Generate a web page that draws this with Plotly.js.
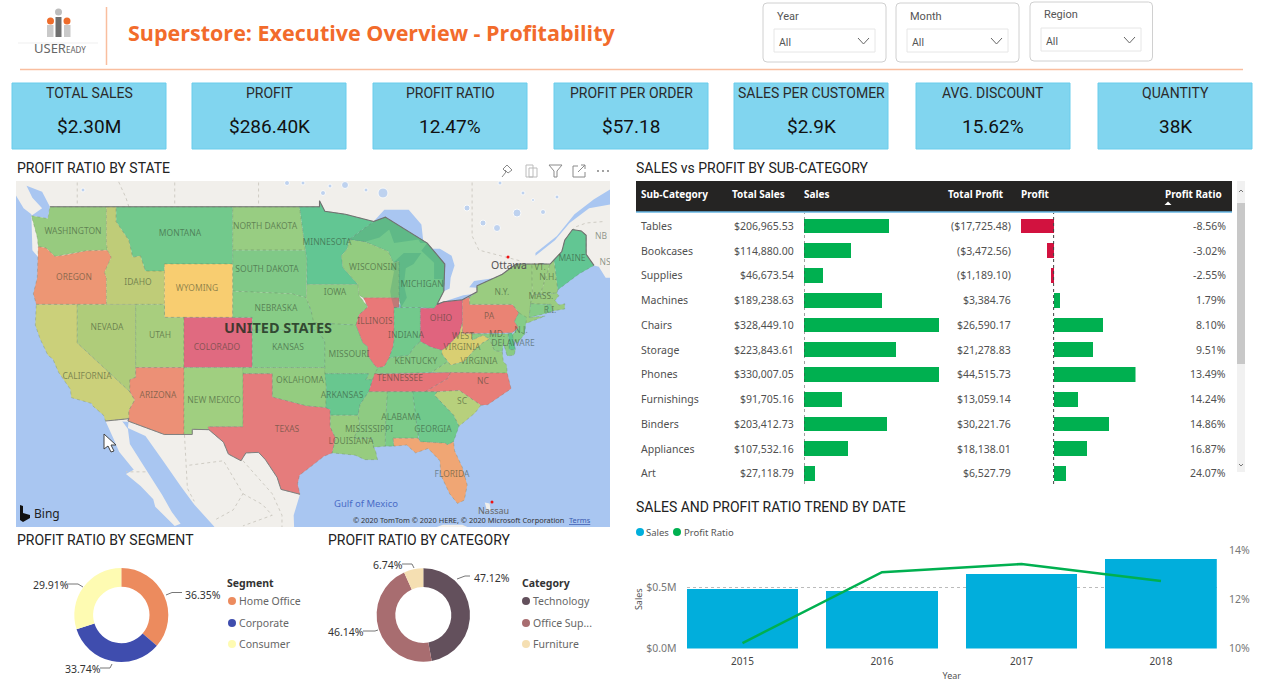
<!DOCTYPE html>
<html><head><meta charset="utf-8">
<script src="https://cdn.plot.ly/plotly-3.0.1.min.js"></script>
<style>html,body{margin:0;padding:0;background:#fff;overflow:hidden}#g{width:1280px;height:683px}</style>
</head><body><div id="g"></div>
<script>
/* ---------- chart data ---------- */
const kpiNames=['TOTAL SALES','PROFIT','PROFIT RATIO','PROFIT PER ORDER','SALES PER CUSTOMER','AVG. DISCOUNT','QUANTITY'];
const kpiValues=['$2.30M','$286.40K','12.47%','$57.18','$2.9K','15.62%','38K'];
const subCategories=['Tables','Bookcases','Supplies','Machines','Chairs','Storage','Phones','Furnishings','Binders','Appliances','Art'];
const totalSales=[206965.53,114880.00,46673.54,189238.63,328449.10,223843.61,330007.05,91705.16,203412.73,107532.16,27118.79];
const totalProfit=[-17725.48,-3472.56,-1189.10,3384.76,26590.17,21278.83,44515.73,13059.14,30221.76,18138.01,6527.79];
const profitRatio=[-8.56,-3.02,-2.55,1.79,8.10,9.51,13.49,14.24,14.86,16.87,24.07];
const years=['2015','2016','2017','2018'];
const yearSales=[484247,470533,609206,733215];
const yearRatio=[10.22,13.10,13.43,12.74];
const segments=['Home Office','Corporate','Consumer'];
const segmentShare=[36.35,33.74,29.91];
const categories=['Technology','Office Sup...','Furniture'];
const categoryShare=[47.12,46.14,6.74];
const segmentColors=['#EC8B5E','#3F4DAE','#FEFBB2'];
const categoryColors=['#63505C','#A86D70','#F5DFB2'];

/* state outlines as lon/lat, and the colour each state is shaded with */
const stateOutlines={
WA:[[-124.7,48.4],[-123,48.2],[-122.8,49],[-117,49],[-117,46.4],[-116.9,46],[-119,45.95],[-121.2,45.65],[-122.3,45.55],[-123.2,46.15],[-124,46.25],[-124.1,46.9]],
OR:[[-124,46.25],[-123.2,46.15],[-122.3,45.55],[-121.2,45.65],[-119,45.95],[-116.9,46],[-116.5,45.5],[-117.2,44.4],[-117,44],[-117,42],[-124.2,42],[-124.5,42.8],[-124.1,44]],
CA:[[-124.2,42],[-120,42],[-120,39],[-114.6,35],[-114.1,34.3],[-114.7,33.4],[-114.7,32.7],[-117.1,32.5],[-117.3,33],[-118.4,33.8],[-118.5,34],[-120.6,34.5],[-120.7,35.2],[-121.9,36.6],[-122.5,37.7],[-123,38],[-123.8,39.3],[-124.3,40.4]],
NV:[[-120,42],[-114,42],[-114,36.2],[-114.6,36],[-114.6,35],[-120,39]],
ID:[[-117,49],[-116,49],[-116,48],[-114.7,46.7],[-114.3,45.5],[-113.5,45.6],[-113,44.5],[-111.05,44.5],[-111.05,42],[-117,42],[-117,44],[-117.2,44.4],[-116.5,45.5],[-116.9,46],[-117,46.4]],
MT:[[-116,49],[-104.05,49],[-104.05,45],[-111.05,45],[-111.05,44.5],[-113,44.5],[-113.5,45.6],[-114.3,45.5],[-114.7,46.7],[-116,48]],
WY:[[-111.05,45],[-104.05,45],[-104.05,41],[-111.05,41]],
UT:[[-114,42],[-111.05,42],[-111.05,41],[-109.05,41],[-109.05,37],[-114,37]],
CO:[[-109.05,41],[-102.05,41],[-102.05,37],[-109.05,37]],
AZ:[[-114,37],[-109.05,37],[-109.05,31.33],[-111.07,31.33],[-114.8,32.5],[-114.7,32.7],[-114.7,33.4],[-114.1,34.3],[-114.6,35],[-114.6,36],[-114,36.2]],
NM:[[-109.05,37],[-103,37],[-103,32],[-106.6,32],[-106.5,31.75],[-108.2,31.78],[-108.2,31.33],[-109.05,31.33]],
ND:[[-104.05,49],[-97.2,49],[-96.6,46],[-104.05,46]],
SD:[[-104.05,46],[-96.6,46],[-96.45,45.3],[-96.45,43.5],[-96.5,42.5],[-98,42.8],[-104.05,43]],
NE:[[-104.05,43],[-98,42.8],[-96.5,42.5],[-96,41.5],[-95.3,40],[-102.05,40],[-102.05,41],[-104.05,41]],
KS:[[-102.05,40],[-95.3,40],[-94.6,39.1],[-94.6,37],[-102.05,37]],
OK:[[-103,37],[-94.6,37],[-94.45,35.4],[-94.5,33.65],[-96.5,33.8],[-98,34.1],[-100,34.55],[-100,36.5],[-103,36.5]],
TX:[[-103,36.5],[-100,36.5],[-100,34.55],[-98,34.1],[-96.5,33.8],[-94.5,33.65],[-94.05,33.5],[-94.05,32],[-93.5,31],[-93.85,29.7],[-94.7,29.4],[-96,28.5],[-97.2,27.7],[-97.4,26.9],[-97.15,25.95],[-99.1,26.4],[-99.5,27.5],[-100.7,29.1],[-101.4,29.75],[-102.7,29.7],[-103.2,29],[-104.5,29.6],[-105,30.65],[-106.5,31.75],[-106.6,32],[-103,32]],
MN:[[-97.2,49],[-95.15,49],[-95.15,49.4],[-94.6,48.7],[-92.5,48.5],[-89.6,48],[-92.1,46.75],[-92.3,46.1],[-92.9,45.6],[-92.75,44.75],[-91.2,43.5],[-96.45,43.5],[-96.45,45.3],[-96.6,46]],
IA:[[-96.45,43.5],[-91.2,43.5],[-91.1,42.7],[-90.2,41.8],[-91.1,41.2],[-91.4,40.4],[-95.75,40.58],[-96,41.5],[-96.5,42.5]],
MO:[[-95.75,40.58],[-91.4,40.4],[-90.7,39],[-90.2,38.7],[-90.2,38],[-89.5,37.2],[-89.15,36.98],[-89.7,36],[-90.4,36],[-90.1,36.5],[-94.6,36.5],[-94.6,39.1],[-95.3,40]],
AR:[[-94.6,36.5],[-90.1,36.5],[-90.4,36],[-89.7,36],[-90.1,35],[-91,33.9],[-91.2,33],[-94.05,33],[-94.05,33.5],[-94.5,33.65],[-94.45,35.4]],
LA:[[-94.05,33],[-91.2,33],[-91,32.3],[-91.6,31],[-89.75,31],[-89.6,30.2],[-89.4,29.9],[-89.2,29.1],[-90.5,29.1],[-91.5,29.5],[-93.85,29.7],[-93.5,31],[-94.05,32]],
MI:[[-92.1,46.75],[-89.6,48],[-88.4,48.3],[-84.1,46.5],[-82.3,45],[-82.4,43],[-83.1,42],[-83.4,41.7],[-84.8,41.76],[-86.8,41.76],[-87,42.5],[-87,45.2],[-87.6,45.1],[-88.1,45.9],[-90.5,46.6]],
WI:[[-92.1,46.75],[-90.5,46.6],[-88.1,45.9],[-87.6,45.1],[-87,45.2],[-87,42.5],[-90.65,42.5],[-91.1,42.7],[-91.2,43.5],[-92.75,44.75],[-92.9,45.6],[-92.3,46.1]],
IL:[[-90.65,42.5],[-87,42.5],[-87,41.76],[-87.5,41.75],[-87.5,39.3],[-87.6,38.7],[-88,37.8],[-88.5,37.1],[-89.15,36.98],[-89.5,37.2],[-90.2,38],[-90.2,38.7],[-90.7,39],[-91.4,40.4],[-91.1,41.2],[-90.2,41.8]],
IN:[[-87.5,41.75],[-84.8,41.76],[-84.8,39.1],[-85.4,38.7],[-86,38],[-87,37.9],[-88,37.8],[-87.6,38.7],[-87.5,39.3]],
OH:[[-84.8,41.7],[-83.4,41.7],[-83.1,42],[-82.4,42.2],[-81,42.3],[-80.5,42.35],[-80.5,40.6],[-80.8,39.7],[-81.7,39],[-82.2,38.6],[-82.6,38.4],[-83.7,38.65],[-84.8,39.1]],
PA:[[-80.5,42.35],[-79.75,42.55],[-79.75,42],[-75.35,42],[-74.7,41.35],[-75.15,40.7],[-74.75,40.2],[-75.4,39.8],[-80.5,39.72]],
NY:[[-79.75,42],[-79.75,42.55],[-79,42.95],[-79,43.4],[-76.4,44.25],[-75,45],[-73.35,45],[-73.35,43.6],[-73.3,42.75],[-73.5,42],[-73.65,41],[-72,41.1],[-73.9,40.55],[-74.2,40.7],[-74.7,41.35],[-75.35,42]],
NJ:[[-74.7,41.35],[-73.9,41],[-74,40.4],[-74.1,39.7],[-74.9,38.95],[-75.5,39.5],[-74.75,40.2],[-75.15,40.7]],
VT:[[-73.35,45],[-71.5,45],[-72.5,42.73],[-73.3,42.75],[-73.35,43.6]],
NH:[[-71.5,45],[-71.1,45.3],[-70.7,43.1],[-70.8,42.87],[-72.5,42.73]],
ME:[[-71.1,45.3],[-70.3,45.9],[-70,46.7],[-69.2,47.45],[-68.3,47.35],[-67.8,47.05],[-67.8,45.7],[-67,44.9],[-68.5,44.3],[-70.7,43.1]],
MA:[[-73.5,42.05],[-73.3,42.75],[-72.5,42.73],[-70.8,42.87],[-70.6,42.65],[-71,42.3],[-70.6,41.95],[-70,42.05],[-70,41.65],[-71.2,41.5],[-71.4,42]],
CT:[[-73.5,42.05],[-71.8,42],[-71.85,41.32],[-73.65,41]],
RI:[[-71.8,42],[-71.4,42],[-71.2,41.5],[-71.85,41.32]],
DE:[[-75.8,39.72],[-75.4,39.8],[-75.05,38.45],[-75.7,38.45]],
MD:[[-79.5,39.72],[-75.8,39.72],[-75.7,38.45],[-75.05,38.45],[-75.2,38],[-75.9,37.95],[-76.3,39],[-76.4,38.3],[-77.2,38.35],[-77.7,39.3],[-78.4,39.6],[-79.5,39.2]],
WV:[[-80.5,40.6],[-80.5,39.72],[-79.5,39.72],[-79.5,39.2],[-78.4,39.6],[-77.7,39.3],[-78.4,39],[-79.3,38.4],[-80.3,37.5],[-81.7,37.2],[-82.6,38.1],[-82.6,38.4],[-82.2,38.6],[-81.7,39],[-80.8,39.7]],
VA:[[-83.7,36.6],[-75.9,36.55],[-75.95,37.2],[-76.3,37.5],[-76.4,38.3],[-77.2,38.35],[-77.7,39.3],[-78.4,39],[-79.3,38.4],[-80.3,37.5],[-81.7,37.2],[-82,37.5]],
KY:[[-89.5,36.5],[-88,36.5],[-83.7,36.6],[-82,37.5],[-82.6,38.1],[-82.6,38.4],[-83.7,38.65],[-84.8,39.1],[-85.4,38.7],[-86,38],[-87,37.9],[-88,37.8],[-88.5,37.1],[-89.15,36.98]],
TN:[[-90.1,35],[-89.7,36],[-89.5,36.5],[-88,36.5],[-83.7,36.6],[-81.7,36.6],[-82,36.1],[-84.3,35]],
NC:[[-84.3,35],[-82,36.1],[-81.7,36.6],[-75.9,36.55],[-75.5,35.25],[-76.5,34.7],[-77.9,33.9],[-78.6,33.85],[-80.8,35.1],[-83.1,35]],
SC:[[-83.1,35],[-80.8,35.1],[-78.6,33.85],[-79.2,33.2],[-80.85,32.05],[-81.4,33],[-83.35,34.7]],
GA:[[-85.6,35],[-83.1,35],[-83.35,34.7],[-81.4,33],[-80.85,32.05],[-81.4,30.7],[-82.05,30.4],[-82.2,30.55],[-84.85,30.7],[-85.1,31.6]],
AL:[[-88.2,35],[-85.6,35],[-85.1,31.6],[-85,31],[-87.6,31],[-87.5,30.3],[-88.4,30.3],[-88.4,31.9]],
MS:[[-90.1,35],[-88.2,35],[-88.4,31.9],[-88.4,30.3],[-89.6,30.2],[-89.75,31],[-91.6,31],[-91,32.3],[-91.2,33],[-91,33.9]],
FL:[[-87.6,31],[-85,31],[-84.85,30.7],[-82.2,30.55],[-82.05,30.4],[-81.4,30.7],[-81.3,29.9],[-80.5,28.4],[-80,26.8],[-80.3,25.4],[-81,25.1],[-81.8,26],[-82.7,27.7],[-82.8,29],[-84,30.1],[-85.3,29.7],[-86.2,30.4],[-87.5,30.3]]
};
const stateColors={WA:'#97CB7F',OR:'#ED9674',CA:'#CBD07A',NV:'#AFCC7A',ID:'#BFCC78',MT:'#72C98C',WY:'#F8CD70',UT:'#A8CE7E',CO:'#E06A80',AZ:'#EC9076',NM:'#A0CF80',ND:'#98CD82',SD:'#80C987',NE:'#87CC86',KS:'#85CC88',OK:'#94CC80',TX:'#E57C7C',MN:'#62C693',IA:'#8FCC82',MO:'#8ACB84',AR:'#68C78F',LA:'#97CC7F',WI:'#93CC80',IL:'#E97878',IN:'#72C98C',OH:'#E0647E',MI:'#72C88C',KY:'#85CA85',TN:'#E67478',MS:'#8ECB82',AL:'#7CCB88',GA:'#70C98C',FL:'#F0A674',SC:'#B7D07C',NC:'#E87D78',VA:'#98CD80',WV:'#D9CF72',PA:'#EA8374',NY:'#9ACC80',VT:'#9ACC80',NH:'#9ACC80',ME:'#62C693',MA:'#9ACC80',CT:'#85CC88',RI:'#78C98A',NJ:'#85CC88',DE:'#60C48F',MD:'#8ACB84'};
/* background geography, lon/lat */
const landNorth=[[-126.5,51],[-65,51],[-65,44],[-65.8,44],[-66.5,44.8],[-67,44.9],[-75,42],[-120,42],[-124.6,46],[-124.7,48.5],[-125.5,48.9],[-126.5,50]];
const stLawrence=[[-65,50.3],[-67,49.5],[-69,48.5],[-70.8,47],[-73,45.8],[-73,45.6],[-71,46.7],[-69.5,47.9],[-67.5,48.9],[-65,49.2]];
const georgiaStrait=[[-124.7,48.4],[-123,48.2],[-122.8,49],[-123.6,50],[-125.2,50.4],[-124.6,49.6],[-123.6,48.9]];
const mexicoMain=[[-117.1,32.55],[-114.7,32.7],[-114.8,31.9],[-113,31.2],[-111.2,29],[-109.4,26.7],[-108,25],[-106,23],[-105,21.5],[-97.7,21.5],[-97.8,24],[-97.15,25.95],[-99,27],[-100,29.5],[-104,30],[-106.5,32]];
const baja=[[-117.1,32.5],[-116.3,31],[-115.7,29.8],[-114.2,28.2],[-115,27.8],[-113.5,26.7],[-112.2,25.5],[-112,24.8],[-110,23],[-109.4,23.2],[-110.3,24.3],[-111.3,25.9],[-112.8,28],[-114.6,30.5],[-114.8,31.8],[-115.4,32.5]];
const cuba=[[-84,22.6],[-82.5,23.1],[-80.5,23.1],[-79,22.5]];
const bahamas=[[-78.2,25.2],[-77.7,25.1],[-77.6,24.4],[-78,24.5]];
const superior=[[-92.1,46.75],[-89.6,48],[-88.5,48.8],[-86,48.8],[-84.7,47.8],[-84.5,46.6],[-87,46.4],[-90.5,46.5]];
const huron=[[-84.5,46.1],[-82.8,46.1],[-81.6,45.6],[-81.3,44.9],[-81.7,44],[-81.8,43.2],[-82.4,43],[-83.2,44.5]];
const erie=[[-83.4,41.7],[-81.2,41.8],[-78.8,42.85],[-80.4,42.7],[-81.8,42.35],[-83.1,42.05]];
const ontarioLake=[[-79.8,43.3],[-79,43.25],[-76.4,43.5],[-76.2,44.15],[-77,44],[-79.3,43.75]];
const tintSuperior=[[-92.1,46.75],[-89.6,48],[-88.4,48.3],[-84.1,46.5],[-84.8,46.5],[-85,46.75],[-87.5,46.5],[-88,47.45],[-89,46.9],[-90.5,46.6]];
const tintMichigan=[[-87.5,41.7],[-86.8,41.76],[-86.2,42.5],[-86.5,43.5],[-86.3,44.7],[-85.5,45],[-84.7,45.8],[-86.5,45.8],[-87.6,45.1],[-87.9,44.6],[-87.5,44.5],[-87.9,43],[-87.8,42.5]];
const tintHuron=[[-84.7,45.95],[-84.1,46.5],[-82.3,45],[-82.4,43],[-82.5,43],[-82.6,43.9],[-83.4,43.9],[-83.4,45.1]];
const northBorder=[[-122.8,49],[-95.15,49],[-95.15,49.4],[-94.6,48.7],[-92.5,48.5],[-89.6,48],[-88.4,48.3],[-84.1,46.5],[-82.3,45],[-82.4,43],[-83.1,42],[-82.4,42.2],[-80.5,42.35],[-79,42.95],[-79,43.4],[-76.4,44.25],[-75,45],[-71.5,45],[-71.1,45.3],[-70.3,45.9],[-70,46.7],[-69.2,47.45],[-68.3,47.35],[-67.8,47.05],[-67.8,45.7],[-67,44.9]];
const southBorder=[[-117.1,32.5],[-114.7,32.7],[-114.8,32.5],[-111.07,31.33],[-108.2,31.33],[-108.2,31.78],[-106.5,31.75],[-105,30.65],[-104.5,29.6],[-103.2,29],[-102.7,29.7],[-101.4,29.75],[-100.7,29.1],[-99.5,27.5],[-99.1,26.4],[-97.15,25.95]];
const provinceLines=[[[-120,51],[-120,49]],[[-114.7,49],[-115,49.6],[-116,51]],[[-110,51],[-110,49]],[[-101.4,51],[-101.4,49]],[[-79.5,51],[-79.5,47],[-78.8,46],[-76.5,45.6],[-74.4,45.2]],[[-70,46.7],[-69,47.6],[-67.8,47.9],[-66,48]],[[-113,28],[-115,28]],[[-109,31.3],[-108.7,26.5],[-108,25.3]],[[-108.5,28.6],[-105,29],[-103,26],[-104,24.5],[-106,23.5]],[[-103,29],[-101,27],[-100,26],[-99,24],[-99,22]],[[-103,26],[-101,25],[-100,24],[-103,23]]];
const lakeSpots=[[383,193,10],[345,185,7],[517,213,8],[543,212,5],[497,228,7],[467,208,6],[483,223,6],[523,193,4],[557,197,4],[323,193,5],[500,183,4],[287,183,5],[303,183,4],[83,190,4],[330,186,4],[366,190,4],[533,200,3]];
/* map place names: name, pixel x, pixel y in the map's own picture */
const placeNames=[['WASHINGTON',73,232],['MONTANA',180,234],['NORTH DAKOTA',265,227],['OREGON',74,278],['IDAHO',138,283],['WYOMING',197,289],['SOUTH DAKOTA',267,270],['NEBRASKA',276,309],['NEVADA',107,328],['UTAH',160,336],['COLORADO',217,348],['KANSAS',288,348],['MINNESOTA',327,243],['WISCONSIN',373,268],['MICHIGAN',422,285],['IOWA',335,293],['ILLINOIS',375,322],['OHIO',441,319],['PA',489,317],['N.Y.',502,293],['MAINE',572,259],['VT.',540,268],['N.H.',548,278],['MASS.',541,297],['R.I.',550,311],['N.J.',521,331],['MD.',497,335],['DELAWARE',513,344],['INDIANA',406,336],['WEST',463,337],['VIRGINIA',462,348],['CALIFORNIA',87,377],['ARIZONA',158,396],['NEW MEXICO',214,401],['TEXAS',287,430],['OKLAHOMA',300,381],['MISSOURI',349,355],['KENTUCKY',416,362],['VIRGINIA',479,362],['TENNESSEE',400,379],['NC',483,382],['ARKANSAS',342,396],['SC',462,402],['ALABAMA',401,418],['MISSISSIPPI',369,430],['GEORGIA',433,430],['LOUISIANA',351,442],['FLORIDA',452,475],['NB',601,237],['NS',605,263]];

/* ---------- helpers ---------- */
const W=1280,H=683;
const X=p=>p/W, Y=p=>1-p/H;
const DIN='Roboto, sans-serif', UI='"Noto Sans", sans-serif';
const merc=lat=>57.29578*Math.log(Math.tan(Math.PI/4+lat*Math.PI/360));
const lonOfPx=p=>-127.92+p/9.75, mercOfPx=p=>77.58-p/9.75;
const shapes=[],ann=[],traces=[];
const T=(text,x,y,o={})=>ann.push({text,x:X(x),y:Y(y),xref:'paper',yref:'paper',showarrow:false,xanchor:o.a||'left',yanchor:'middle',borderpad:0,textangle:o.rot||0,
  font:{family:o.f||UI,size:o.s||10.5,color:o.c||'#505050'}});
const rect=(x0,y0,x1,y1,fill,line,lw,layer)=>shapes.push({type:'rect',xref:'paper',yref:'paper',x0:X(x0),x1:X(x1),y0:Y(y0),y1:Y(y1),fillcolor:fill||'rgba(0,0,0,0)',line:{color:line||'rgba(0,0,0,0)',width:lw||0},layer:layer||'above'});
const circ=(cx,cy,r,fill)=>shapes.push({type:'circle',xref:'paper',yref:'paper',x0:X(cx-r),x1:X(cx+r),y0:Y(cy+r),y1:Y(cy-r),fillcolor:fill,line:{width:0}});
const path=(pts,o={})=>shapes.push({type:'path',xref:'paper',yref:'paper',path:pts.map((p,i)=>(i?'L':'M')+X(p[0])+','+Y(p[1])).join(' ')+(o.close?' Z':''),fillcolor:o.fill||'rgba(0,0,0,0)',line:{color:o.c||'rgba(0,0,0,0)',width:o.w===undefined?1:o.w,dash:o.dash||'solid'},layer:o.layer||'above'});
const line=(pts,c,w,dash)=>path(pts,{c,w:w||1,dash});
const poly=(pts,fill,lc,lw,dash)=>traces.push({type:'scatter',mode:lc?'lines':'none',x:pts.map(p=>p[0]).concat(pts[0][0]),y:pts.map(p=>merc(p[1])).concat(merc(pts[0][1])),fill:'toself',fillcolor:fill,line:{color:lc||fill,width:lw||0,dash:dash||'solid'},xaxis:'x',yaxis:'y',hoverinfo:'skip',showlegend:false});
const polyline=(pts,c,w,dash)=>traces.push({type:'scatter',mode:'lines',x:pts.map(p=>p[0]),y:pts.map(p=>merc(p[1])),line:{color:c,width:w,dash:dash||'solid'},xaxis:'x',yaxis:'y',hoverinfo:'skip',showlegend:false});

/* ---------- page furniture ---------- */
const orange='#F26B2B', rule='#F9BE9F';
line([[106.5,7],[106.5,65]],rule,1.5);
line([[20,69.5],[1243,69.5]],rule,1.5);
T('<b>Superstore: Executive Overview - Profitability</b>',127,32,{s:21.5,c:orange,f:'"Open Sans", sans-serif'});
/* logo */
line([[18,43],[98,43]],'#EFEFEF',1);
circ(58.5,12,3.5,'#BDBDBD');circ(50.5,21,3.5,'#EE6C2B');circ(67,21,3.5,'#EE6C2B');
rect(55.5,17,61.5,37,'#6F6F6F');rect(47,25,53.5,37,'#C9C9C9');rect(64,25,70.5,37,'#C9C9C9');
T('USER<span style="font-size:8px">EADY</span>',33,48.5,{s:13,c:'#666','f':UI});

/* filters */
[['Year',763,886,3,62,774,875,29,52],['Month',896,1019,3,62,907,1008,29,52],['Region',1030,1152.5,2,61,1041,1141,28,51]].forEach(b=>{
  shapes.push({type:'path',xref:'paper',yref:'paper',line:{color:'#D0D0D0',width:1},
    path:(()=>{const [x0,x1,y0,y1]=[b[1],b[2],b[3],b[4]],r=4;const q=(a,c)=>X(a)+','+Y(c);
      return `M${q(x0+r,y0)} L${q(x1-r,y0)} Q${q(x1,y0)} ${q(x1,y0+r)} L${q(x1,y1-r)} Q${q(x1,y1)} ${q(x1-r,y1)} L${q(x0+r,y1)} Q${q(x0,y1)} ${q(x0,y1-r)} L${q(x0,y0+r)} Q${q(x0,y0)} ${q(x0+r,y0)} Z`;})()});
  rect(b[5],b[7],b[6],b[8],null,'#E6E6E6',1);
  T(b[0],b[5]+2,b[3]+13,{s:11,c:'#555',f:DIN});
  T('All',b[5]+4,b[7]+13,{s:10.5,c:'#555',f:DIN});
  line([[b[6]-17,b[7]+9],[b[6]-11.5,b[7]+15],[b[6]-6,b[7]+9]],'#666',1);
});

/* KPI cards */
const cardLeft=[12,192,373,554,734,916,1098];
kpiNames.forEach((n,i)=>{
  const l=cardLeft[i];
  rect(l,83,l+154,149,'#81D5EF','#6BCDEC',1,'below');
  T(n,l+77,93,{a:'center',s:14,c:'#2b2b2b',f:DIN});
  T(kpiValues[i],l+77,127,{a:'center',s:19,c:'#111',f:DIN});
});

/* section titles */
[['PROFIT RATIO BY STATE',16,168],['SALES vs PROFIT BY SUB-CATEGORY',635,168],['SALES AND PROFIT RATIO TREND BY DATE',635,507],['PROFIT RATIO BY SEGMENT',16,540],['PROFIT RATIO BY CATEGORY',327,540]]
  .forEach(t=>T(t[0],t[1],t[2],{s:14,c:'#222',f:DIN}));

/* visual header icons */
const ic='#8A8A8A';
line([[502,177],[506,172],[503,169],[507,165],[512,170],[508,173],[505,170]],ic,1);
path([[526,165],[533,165],[533,177],[526,177]],{c:'#BBB',w:1,close:true});path([[529,168],[537,168],[537,177],[529,177]],{c:'#BBB',w:1,close:true});
path([[549,165],[562,165],[557,171],[557,177],[554,177],[554,171]],{c:ic,w:1,close:true});
path([[578,166],[573,166],[573,177],[585,177],[585,172]],{c:ic,w:1});line([[578,172],[585,165]],ic,1);line([[581,165],[585,165],[585,169]],ic,1);
[598,603,608].forEach(x=>circ(x,171,0.9,'#777'));

/* ---------- map ---------- */
rect(16,181,610,527,'#A9C6F1',null,0,'below');
const land='#F1EFEB', water='#A9C6F1';
poly(landNorth,land);poly(stLawrence,water);poly(georgiaStrait,water);
poly(mexicoMain,land);poly(baja,land);poly(cuba,land);poly(bahamas,land);
traces.push({type:'scatter',mode:'markers',x:lakeSpots.map(l=>lonOfPx(l[0])),y:lakeSpots.map(l=>mercOfPx(l[1])),marker:{size:lakeSpots.map(l=>l[2]),color:water},xaxis:'x',yaxis:'y',hoverinfo:'skip',showlegend:false});
provinceLines.forEach(l=>polyline(l,'#CFCCC4',1,'dot'));
poly(superior,water);poly(huron,water);poly(erie,water);poly(ontarioLake,water);
Object.keys(stateOutlines).forEach(k=>poly(stateOutlines[k],stateColors[k],'rgba(95,120,90,0.28)',1,'dot'));
poly(tintSuperior,'rgba(20,125,115,0.20)');poly(tintMichigan,'rgba(20,125,115,0.20)');poly(tintHuron,'rgba(20,125,115,0.20)');
polyline(northBorder,'#707070',1.1);polyline(southBorder,'#808080',1);
traces.push({type:'scatter',mode:'text',x:placeNames.map(p=>lonOfPx(p[1])),y:placeNames.map(p=>mercOfPx(p[2])),text:placeNames.map(p=>p[0]),
  textposition:'middle center',textfont:{family:UI,size:8.5,color:'rgba(45,60,40,0.52)'},xaxis:'x',yaxis:'y',hoverinfo:'skip',showlegend:false});
T('<b>UNITED STATES</b>',278,327,{a:'center',s:14.5,c:'rgba(30,45,30,0.82)'});
T('Ottawa',509,265,{a:'center',s:10.5,c:'#555'});circ(508,257,1.5,'#E11');
T('Nassau',493,510,{a:'center',s:9,c:'#666'});circ(492,502,1.5,'#E11');
T('Gulf of Mexico',366,503,{a:'center',s:9.5,c:'#4A6CC6'});
T('© 2020 TomTom © 2020 HERE, © 2020 Microsoft Corporation',352,520,{s:7.4,c:'#333'});
T('<u>Terms</u>',568,520,{s:7.4,c:'#3A5AB0'});
T('Bing',33,513,{s:12,c:'#222'});
path([[20,505],[23,506],[23,513],[30,515],[30,518],[23,522],[20,520]],{fill:'#111',w:0,close:true});
path([[104,434],[104,449],[108,446],[111,452],[114,451],[111,445],[116,445]],{fill:'#fff',c:'#444',w:1,close:true});

/* ---------- table ---------- */
const rowTop=213.6,rowStep=24.75,rowY=i=>rowTop+rowStep*(i+.5);
rect(636,181,1232,211.5,'#252423');
line([[636,212],[1232,212]],'#1F93D8',1.2);
[['Sub-Category',640],['Total Sales',731],['Sales',803],['Total Profit',947],['Profit',1020],['Profit Ratio',1164]]
  .forEach(h=>T('<b>'+h[0]+'</b>',h[1],193.5,{s:10,c:'#fff'}));
path([[1164.5,205],[1168,201.5],[1171.5,205]],{fill:'#fff',w:0,close:true});
rect(1237,181,1245,472,'#F1F1F1');rect(1237,203,1245,364,'#C8C8C8');
line([[1239,192],[1241,190],[1243,192]],'#777',1);line([[1239,464],[1241,466],[1243,464]],'#777',1);
const usd=v=>'$'+Math.abs(v).toLocaleString('en-US',{minimumFractionDigits:2,maximumFractionDigits:2});
subCategories.forEach((n,i)=>{
  const y=rowY(i);
  T(n,640,y,{});
  T(usd(totalSales[i]),795,y,{a:'right'});
  T(totalProfit[i]<0?'('+usd(totalProfit[i])+')':usd(totalProfit[i]),1012,y,{a:'right'});
  T(profitRatio[i].toFixed(2)+'%',1227,y,{a:'right'});
});
traces.push({type:'bar',orientation:'h',y:subCategories,x:totalSales,marker:{color:'#00B050'},width:.6,xaxis:'x2',yaxis:'y2',hoverinfo:'skip',showlegend:false});
traces.push({type:'bar',orientation:'h',y:subCategories,x:totalProfit,marker:{color:totalProfit.map(v=>v<0?'#D2123F':'#00B050')},width:.6,xaxis:'x3',yaxis:'y3',hoverinfo:'skip',showlegend:false});
['x2','x3'].forEach(a=>shapes.push({type:'line',xref:a,yref:'paper',x0:0,x1:0,y0:Y(484),y1:Y(213),line:{color:'#444',width:1,dash:'dot'}}));

/* ---------- trend ---------- */
circ(640,532,4,'#01AFDC');T('Sales',645,532,{s:9.5,c:'#555'});
circ(677,532,4,'#00B050');T('Profit Ratio',683,532,{s:9.5,c:'#555'});
traces.push({type:'bar',x:years,y:yearSales,marker:{color:'#01AEDC'},width:.8,xaxis:'x4',yaxis:'y4',hoverinfo:'skip',showlegend:false});
traces.push({type:'scatter',mode:'lines',x:years,y:yearRatio,line:{color:'#00B050',width:2.6},xaxis:'x4',yaxis:'y5',hoverinfo:'skip',showlegend:false});

/* ---------- donuts ---------- */
const donut=(labels,values,colors,cx,cy,r)=>traces.push({type:'pie',labels,values,sort:false,direction:'clockwise',rotation:0,hole:.6,textinfo:'none',hoverinfo:'skip',showlegend:false,
  marker:{colors,line:{width:0}},domain:{x:[X(cx-r),X(cx+r)],y:[Y(cy+r),Y(cy-r)]}});
donut(segments,segmentShare,segmentColors,121.3,615,47);
donut(categories,categoryShare,categoryColors,423.3,615,46.7);
const pct=v=>v.toFixed(2)+'%', lead='#777', lab={s:10.5,c:'#333'};
T(pct(segmentShare[0]),184,595,lab);line([[166,595],[172,592.5],[182,592.5]],lead,1);
T(pct(segmentShare[2]),32,585,lab);line([[66,584],[78,584],[83,587]],lead,1);
T(pct(segmentShare[1]),64,669,lab);line([[100,668],[110,668],[112,664]],lead,1);
T(pct(categoryShare[0]),472.5,577.5,lab);line([[457,579],[465,576],[470,576]],lead,1);
T(pct(categoryShare[1]),327,632,lab);line([[363,631],[375,631],[378,630]],lead,1);
T(pct(categoryShare[2]),372,565,lab);line([[402,564],[412,564],[414,568]],lead,1);
T('<b>Segment</b>',226,583,{s:10.5,c:'#333'});
segments.forEach((s,i)=>{const y=[601,623,644][i];circ(232,y,4,segmentColors[i]);T(s,238,y,{s:10.5,c:'#666'});});
T('<b>Category</b>',521,583,{s:10.5,c:'#333'});
categories.forEach((s,i)=>{const y=[601,623,644][i];circ(526,y,4,categoryColors[i]);T(s,532,y,{s:10.5,c:'#666'});});

/* ---------- layout ---------- */
const hidden={visible:false,fixedrange:true};
const tableY={...hidden,type:'category',categoryorder:'array',categoryarray:subCategories,autorange:'reversed'};
const layout={width:W,height:H,margin:{l:0,r:0,t:0,b:0},paper_bgcolor:'#fff',plot_bgcolor:'rgba(0,0,0,0)',showlegend:false,hovermode:false,shapes,annotations:ann,bargap:0,
  xaxis:{...hidden,domain:[X(16),X(610)],range:[lonOfPx(16),lonOfPx(610)]},
  yaxis:{...hidden,domain:[Y(527),Y(181)],range:[mercOfPx(527),mercOfPx(181)]},
  xaxis2:{...hidden,anchor:'y2',domain:[X(804),X(939.3)],range:[0,330007.05]},
  yaxis2:{...tableY,anchor:'x2',domain:[Y(rowTop+rowStep*11),Y(rowTop)]},
  xaxis3:{...hidden,anchor:'y3',domain:[X(1021),X(1135.5)],range:[-17725.48,44515.73]},
  yaxis3:{...tableY,anchor:'x3',domain:[Y(rowTop+rowStep*11),Y(rowTop)]},
  xaxis4:{type:'category',anchor:'y4',domain:[X(686.7),X(1216.8)],range:[-.4,3.4],showgrid:false,zeroline:false,showline:false,ticks:'outside',ticklen:3,tickcolor:'rgba(0,0,0,0)',tickfont:{family:UI,size:10,color:'#444'},fixedrange:true,
    title:{text:'Year',font:{family:UI,size:9,color:'#555'},standoff:6}},
  yaxis4:{anchor:'x4',domain:[Y(648.5),Y(550)],range:[0,807000],tickvals:[0,500000],ticktext:['$0.0M','$0.5M'],tickfont:{family:UI,size:10.5,color:'#777'},ticks:'outside',ticklen:7,tickcolor:'rgba(0,0,0,0)',
    showgrid:true,griddash:'dot',gridcolor:'#BBB',gridwidth:1,zeroline:false,showline:false,fixedrange:true,title:{text:'Sales',font:{family:UI,size:9,color:'#555'},standoff:2}},
  yaxis5:{anchor:'x4',overlaying:'y4',side:'right',range:[10,14],tickvals:[10,12,14],ticktext:['10%','12%','14%'],tickfont:{family:UI,size:10.5,color:'#777'},ticks:'outside',ticklen:9,tickcolor:'rgba(0,0,0,0)',showgrid:false,zeroline:false,showline:false,fixedrange:true}
};
Plotly.newPlot('g',traces,layout,{staticPlot:true,displayModeBar:false});
</script></body></html>
